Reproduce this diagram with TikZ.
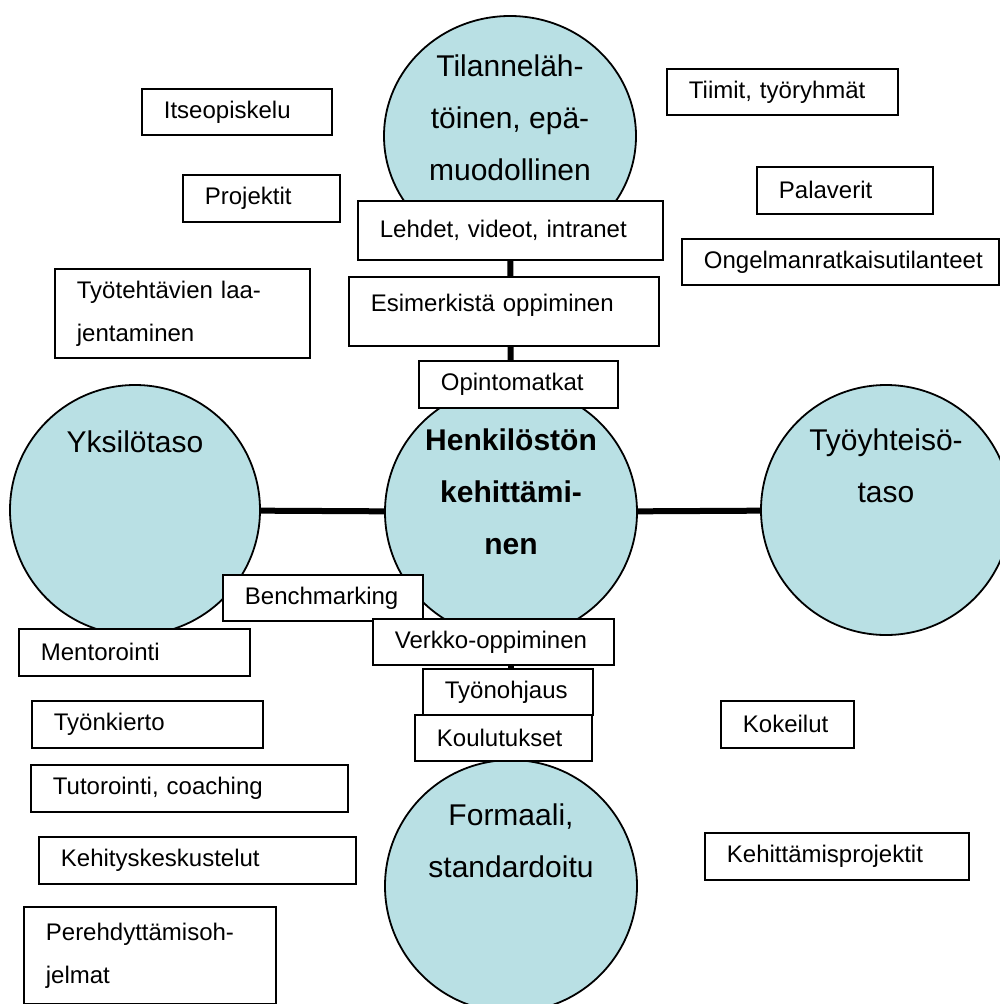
\documentclass[tikz,border=0pt]{standalone}
\usepackage{fontspec}
\setmainfont{Liberation Sans}
\usetikzlibrary{shapes.geometric}
\definecolor{lvlblue}{RGB}{185,224,228}
\newcommand{\boxfont}{\fontsize{24}{43}\selectfont\hyphenpenalty=10000\exhyphenpenalty=10000}
\newcommand{\lvlfont}{\fontsize{30}{52}\selectfont}

\begin{document}
\begin{tikzpicture}[x=1pt,y=-1pt,
    lvl/.style={ellipse,draw,line width=1.8pt,fill=lvlblue,inner sep=0pt,minimum width=252pt,minimum height=252pt},
    lvltext/.style={anchor=north,inner sep=0pt,align=center,font=\lvlfont},
    lbox/.style={draw,fill=white,line width=1.8pt,anchor=north west,align=left,inner xsep=22pt,inner ysep=0pt,minimum height=47pt,font=\boxfont},
    conn/.style={line width=6pt}]
    \useasboundingbox (0,0) rectangle (1000,1004);
    \clip (0,0) rectangle (1000,1004);
    \node[lvl,minimum height=240pt] (T) at (510,136) {};
    \node[lvl] (C) at (511,512) {};
    \node[lvl,minimum width=250pt,minimum height=250pt] (Y) at (135,510) {};
    \node[lvl,minimum width=250pt,minimum height=250pt] (W) at (886,510) {};
    \node[lvl] (F) at (511,886) {};
    \foreach \X in {T,Y,W,F}
    {\draw[conn] (C) -- (\X);}
    \node[lvltext] (Tt) at ([yshift=81pt]T.center) {Tilanneläh-\\töinen, epä-\\muodollinen};
    \node[lvltext,font=\lvlfont\bfseries] (Ct) at ([yshift=83pt]C.center) {Henkilöstön\\kehittämi-\\nen};
    \node[lvltext] (Yt) at ([yshift=79pt]Y.center) {Yksilötaso};
    \node[lvltext] (Wt) at ([yshift=81pt]W.center) {Työyhteisö-\\taso};
    \node[lvltext] (Ft) at ([yshift=82pt]F.center) {Formaali,\\standardoitu};
    \node[lbox,text width=146pt,minimum height=46pt] (itse) at (141,88) {Itseopiskelu};
    \node[lbox,text width=113pt] (proj) at (182,174) {Projektit};
    \node[lbox,text width=211pt,minimum height=89pt] (tyot) at (54,268) {Työtehtävien laa-\\jentaminen};
    \node[lbox,text width=187pt,minimum height=46pt] (tiimit) at (666,68) {Tiimit, työryhmät};
    \node[lbox,text width=132pt] (palav) at (756,166) {Palaverit};
    \node[lbox,text width=273pt,minimum height=46pt] (ongel) at (681,238) {Ongelmanratkaisutilanteet};
    \node[lbox,text width=261pt,minimum height=59pt] (lehdet) at (357,200) {Lehdet, videot, intranet};
    \node[lbox,text width=266pt,minimum height=69pt,text depth=18pt] (esim) at (348,276) {Esimerkistä oppiminen};
    \node[lbox,text width=155pt] (opinto) at (418,360) {Opintomatkat};
    \node[lbox,text width=156pt,minimum height=46pt] (bench) at (222,574) {Benchmarking};
    \node[lbox,text width=197pt,minimum height=46pt] (verkko) at (372,618) {Verkko-oppiminen};
    \node[lbox,text width=126pt,minimum height=46pt] (tyonoh) at (422,668) {Työnohjaus};
    \node[lbox,text width=133pt,minimum height=46pt] (koulu) at (414,714) {Koulutukset};
    \node[lbox,text width=187pt] (mentor) at (18,628) {Mentorointi};
    \node[lbox,text width=187pt] (tyonk) at (31,700) {Työnkierto};
    \node[lbox,text width=273pt] (tutor) at (30,764) {Tutorointi, coaching};
    \node[lbox,text width=273pt] (kehk) at (38,836) {Kehityskeskustelut};
    \node[lbox,text width=208pt,minimum height=97pt] (pereh) at (23,906) {Perehdyttämisoh-\\jelmat};
    \node[lbox,text width=89pt] (kokeil) at (720,700) {Kokeilut};
    \node[lbox,text width=220pt] (kehpro) at (704,832) {Kehittämisprojektit};
\end{tikzpicture}
\end{document}
